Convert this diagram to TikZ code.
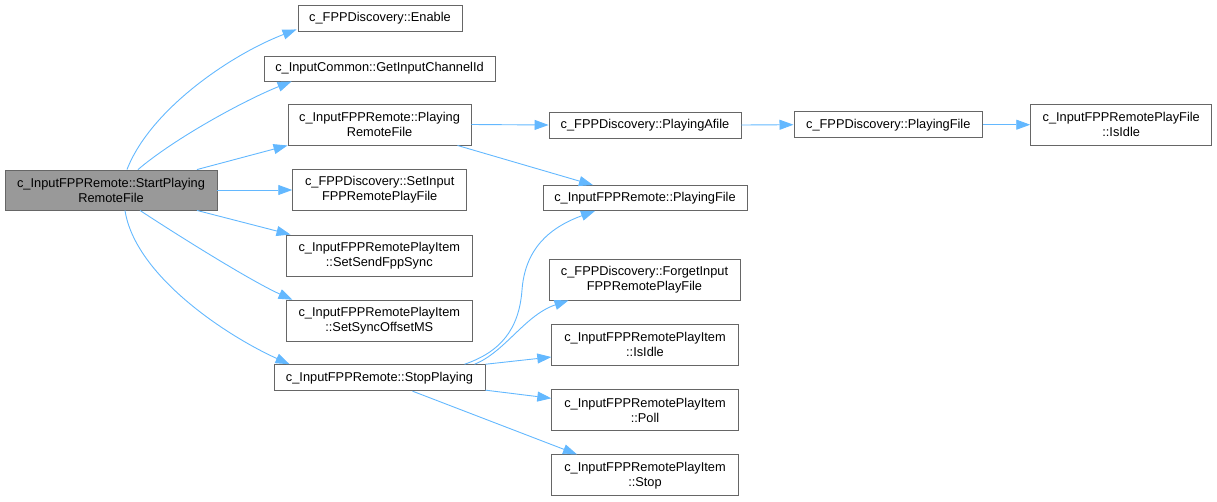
\documentclass[tikz,border=0pt]{standalone}
\usepackage{fontspec}
\setmainfont{Liberation Sans}
\usetikzlibrary{arrows.meta,calc}
\definecolor{edgeblue}{HTML}{63B8FF}
\definecolor{boxborder}{HTML}{666666}
\definecolor{rootfill}{HTML}{999999}
\tikzset{
  fn/.style={draw=boxborder, line width=0.9pt, fill=white, inner sep=0pt, align=center,
    font=\fontsize{12.8}{15}\selectfont, text=black},
  one/.style={minimum height=26pt},
  two/.style={minimum height=41pt},
  call/.style={draw=edgeblue, line width=0.9pt, -{Triangle[length=14pt,width=10pt]}},
}
\begin{document}
\begin{tikzpicture}[x=1pt,y=-1pt]
\useasboundingbox (0,0) rectangle (1217,501);
% column 1
\node[fn, fill=rootfill, minimum width=212pt, minimum height=40pt] (root) at (111,190) {c\_InputFPPRemote::StartPlaying\\RemoteFile};
% column 2
\node[fn, one, minimum width=164pt] (enable) at (380,18) {c\_FPPDiscovery::Enable};
\node[fn, minimum height=25pt, minimum width=231pt] (getch) at (379.5,68.5) {c\_InputCommon::GetInputChannelId};
\node[fn, two, minimum width=183pt] (prf) at (379.5,124.5) {c\_InputFPPRemote::Playing\\RemoteFile};
\node[fn, two, minimum width=174pt] (setinput) at (379.7,190) {c\_FPPDiscovery::SetInput\\FPPRemotePlayFile};
\node[fn, two, minimum width=186.7pt] (sendsync) at (379.3,255.5) {c\_InputFPPRemotePlayItem\\::SetSendFppSync};
\node[fn, two, minimum width=186.7pt] (syncoff) at (379.3,320.7) {c\_InputFPPRemotePlayItem\\::SetSyncOffsetMS};
\node[fn, one, minimum width=211pt] (stop) at (379.5,377.7) {c\_InputFPPRemote::StopPlaying};
% column 3
\node[fn, one, minimum width=192pt] (playafile) at (645,125) {c\_FPPDiscovery::PlayingAfile};
\node[fn, minimum height=25pt, minimum width=204pt] (ipf) at (645,198) {c\_InputFPPRemote::PlayingFile};
\node[fn, two, minimum width=191pt] (forget) at (644.5,279.5) {c\_FPPDiscovery::ForgetInput\\FPPRemotePlayFile};
\node[fn, two, minimum width=186.5pt] (itidle) at (645,344.5) {c\_InputFPPRemotePlayItem\\::IsIdle};
\node[fn, two, minimum width=186.5pt] (poll) at (645,410.3) {c\_InputFPPRemotePlayItem\\::Poll};
\node[fn, two, minimum width=186.5pt] (stopitem) at (645,475.3) {c\_InputFPPRemotePlayItem\\::Stop};
% column 4 / 5
\node[fn, one, minimum width=188.7pt] (fpf) at (888.3,124.7) {c\_FPPDiscovery::PlayingFile};
\node[fn, two, minimum width=181pt] (pfidle) at (1121.2,124.7) {c\_InputFPPRemotePlayFile\\::IsIdle};

% edges from root
\draw[call] ($(root.north)+(16,0)$) .. controls (150,110) and (230,55) .. ($(enable.south west)+(-1,-2)$);
\draw[call] ($(root.north)+(27,0)$) .. controls (175,138) and (245,100) .. ($(getch.south west)+(28,0)$);
\draw[call] ($(root.north)+(86,0)$) -- (prf.south west);
\draw[call] (root.east) -- (setinput.west);
\draw[call] ($(root.south)+(86,0)$) -- ($(sendsync.north west)+(5,0)$);
\draw[call] ($(root.south)+(29,0)$) .. controls (185,240) and (253,282) .. ($(syncoff.north west)+(7,0)$);
\draw[call] ($(root.south)+(14,0)$) .. controls (135,275) and (225,335) .. ($(stop.north west)+(16,0)$);
% edges from PlayingRemoteFile
\draw[call] (prf.east) -- (playafile.west);
\draw[call] ($(prf.south east)+(-14,0)$) -- ($(ipf.north)+(-52,0)$);
\draw[call] (playafile.east) -- (fpf.west);
\draw[call] (fpf.east) -- (pfidle.west);
% edges from StopPlaying
\draw[call] ($(stop.north)+(85,0)$) .. controls (500,352) and (519,330) .. (522,290)
  .. controls (525,250) and (548,228) .. ($(ipf.south)+(-50,0)$);
\draw[call] ($(stop.north)+(95,0)$) .. controls (505,352) and (525,315) .. ($(forget.south)+(-76,0)$);
\draw[call] (stop.north east) -- ($(itidle.west)+(0,12.5)$);
\draw[call] ($(stop.south east)+(0,-1)$) -- ($(poll.west)+(0,-12)$);
\draw[call] ($(stop.south)+(33,0)$) -- ($(stopitem.north)+(-68,0)$);
\end{tikzpicture}
\end{document}
